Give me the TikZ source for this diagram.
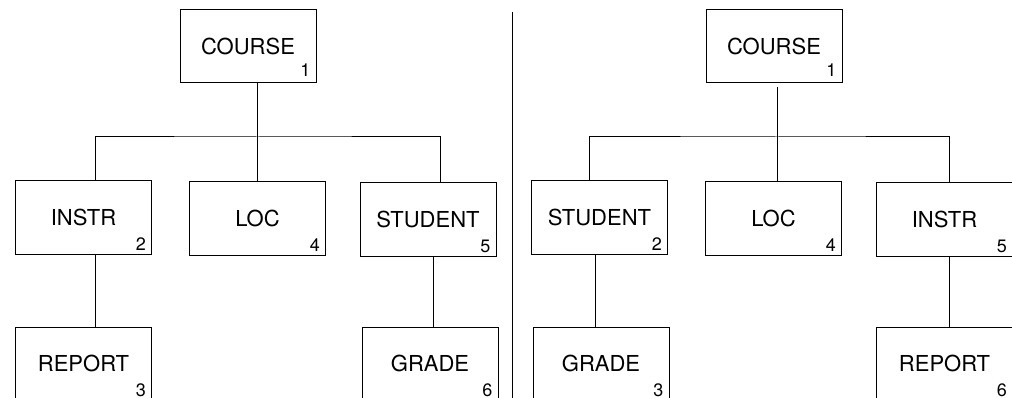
\documentclass[tikz,border=0pt]{standalone}
\usepackage{fontspec}
\setmainfont{TeX Gyre Heros}
\usepackage{tikz}
\usetikzlibrary{positioning,calc}
\tikzset{
  segbox/.style={draw, line width=1pt, minimum width=136pt, minimum height=73pt,
    inner sep=0pt, font=\fontsize{22}{26}\selectfont},
  segnum/.style={anchor=south east, inner sep=0pt, xshift=-6pt, yshift=4pt,
    font=\fontsize{18}{22}\selectfont},
  link/.style={line width=1pt}
}

\begin{document}
\begin{tikzpicture}[x=1pt,y=-1pt]
\clip (0,0) rectangle (1012,398);
% left hierarchy
\node[segbox, label={[segnum, name=courseLn, yshift=3pt]south east:1}] (courseL) at (248,46.5) {COURSE};
\node[segbox, label={[segnum, name=instrLn]south east:2}] (instrL) at (83.5,217.5) {INSTR};
\node[segbox, label={[segnum, name=locLn]south east:4}] (locL) at (257.5,218.5) {LOC};
\node[segbox, label={[segnum, name=studLn]south east:5}] (studL) at (428,219.5) {STUDENT};
\node[segbox, label={[segnum, name=reportLn]south east:3}] (reportL) at (83.5,363.5) {REPORT};
\node[segbox, label={[segnum, name=gradeLn]south east:6}] (gradeL) at (430,363.5) {GRADE};
\coordinate (barL) at (257.5,137);
\draw[link] (courseL.south -| locL.north) -- (locL.north);
\draw[link] ([xshift=11.5pt]instrL.north) |- (barL) -| ([xshift=12pt]studL.north);
\draw[link] ([xshift=11.5pt]instrL.south) -- ([xshift=11.5pt]reportL.north);
\draw[link] ([xshift=5pt]studL.south) -- ([xshift=5pt]studL.south |- gradeL.north);
% divider
\draw[link] (512,12) -- (512,398);
% right hierarchy
\node[segbox, label={[segnum, name=courseRn, yshift=3pt]south east:1}] (courseR) at (774,46.5) {COURSE};
\node[segbox, label={[segnum, name=studRn]south east:2}] (studR) at (599.5,217.5) {STUDENT};
\node[segbox, label={[segnum, name=locRn]south east:4}] (locR) at (773.5,218.5) {LOC};
\node[segbox, label={[segnum, name=instrRn]south east:5}] (instrR) at (944.5,219.5) {INSTR};
\node[segbox, label={[segnum, name=gradeRn]south east:3}] (gradeR) at (601,363.5) {GRADE};
\node[segbox, label={[segnum, name=reportRn]south east:6}] (reportR) at (944.5,363.5) {REPORT};
\coordinate (barR) at (777,137);
\draw[link] ([xshift=3pt,yshift=-4pt]courseR.south) -- ([xshift=3pt]courseR.south |- locR.north);
\draw[link] ([xshift=-10.5pt]studR.north) |- (barR) -| ([xshift=4.5pt]instrR.north);
\draw[link] ([xshift=-4.5pt]studR.south) -- ([xshift=-4.5pt]studR.south |- gradeR.north);
\draw[link] ([xshift=4.5pt]instrR.south) -- ([xshift=4.5pt]instrR.south |- reportR.north);
\end{tikzpicture}
\end{document}
